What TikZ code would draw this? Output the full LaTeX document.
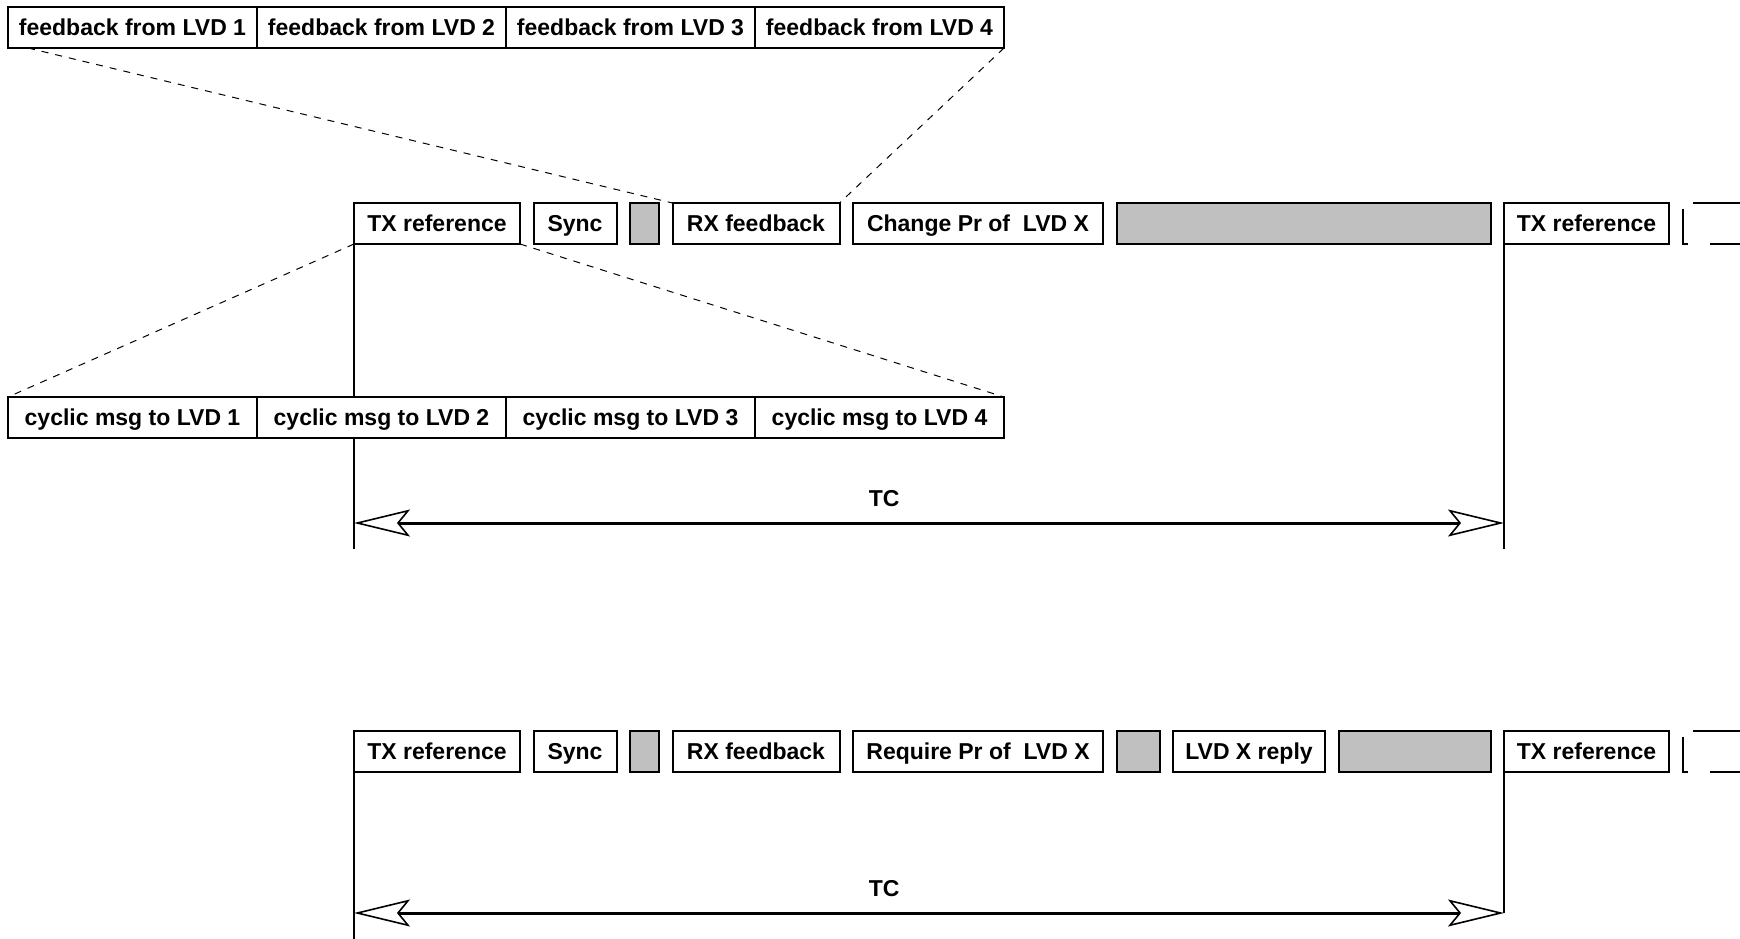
\documentclass[tikz,border=0pt]{standalone}
\usepackage{fontspec}
\setmainfont{Liberation Sans}
\usepackage{tikz}
\usetikzlibrary{arrows.meta, positioning, calc}
\definecolor{slotgray}{HTML}{C0C0C0}

\begin{document}
\begin{tikzpicture}[x=0.5pt, y=-0.5pt, node distance=6.75pt,
    font=\fontsize{11.5}{13}\selectfont\bfseries,
    frame/.style={draw, line width=1pt, fill=white, minimum height=20.5pt,
                  text height=9.5pt, text depth=1.4pt,
                  inner sep=0pt, outer sep=0pt, anchor=west},
    slot/.style={frame, fill=slotgray},
    zoomline/.style={line width=0.5pt, dash pattern=on 3.5pt off 3.5pt},
    tick/.style={line width=0.8pt},
    tcline/.style={line width=1.5pt,
      {Stealth[fill=white, length=28pt, width=13.5pt, inset=5.5pt, line width=0.8pt]}-{Stealth[fill=white, length=28pt, width=13.5pt, inset=5.5pt, line width=0.8pt]}}]
  \useasboundingbox (0,0) rectangle (1740,938);

  % feedback frame
  \node[frame, minimum width=124.5pt] (fb1) at (8,27.5) {feedback from LVD 1};
  \node[frame, minimum width=124.5pt, right=0pt of fb1] (fb2) {feedback from LVD 2};
  \node[frame, minimum width=124.5pt, right=0pt of fb2] (fb3) {feedback from LVD 3};
  \node[frame, minimum width=124.5pt, right=0pt of fb3] (fb4) {feedback from LVD 4};

  % first cycle
  \node[frame, minimum width=83pt] (txa) at (354,223.5) {TX reference};
  \node[frame, minimum width=41.5pt, right=of txa] (synca) {Sync};
  \node[slot, minimum width=14.5pt, right=of synca] (gapa) {};
  \node[frame, minimum width=83.5pt, right=of gapa] (rxa) {RX feedback};
  \node[frame, minimum width=125pt, right=of rxa] (chga) {Change Pr of\ \ LVD X};
  \node[slot, minimum width=187pt, right=of chga] (idlea) {};
  \node[frame, minimum width=82.5pt, right=of idlea] (txra) {TX reference};
  \draw[line width=1pt] ($(txra.north east)+(24,0)$) -- ++(50,0);
  \draw[line width=1pt] ($(txra.north east)+(14,6)$) -- ($(txra.south east)+(14,0)$) -- ++(5,0);
  \draw[line width=1pt] ($(txra.south east)+(41,0)$) -- ++(35,0);

  \draw[tick] (txa.south west) -- ++(0,305);
  \draw[tick] (txra.south west) -- ++(0,305);

  % cyclic frame
  \node[frame, minimum width=124.5pt, below=174.5pt of fb1] (cy1) {cyclic msg to LVD 1};
  \node[frame, minimum width=124.5pt, right=0pt of cy1] (cy2) {cyclic msg to LVD 2};
  \node[frame, minimum width=124.5pt, right=0pt of cy2] (cy3) {cyclic msg to LVD 3};
  \node[frame, minimum width=124.5pt, right=0pt of cy3] (cy4) {cyclic msg to LVD 4};

  \draw[zoomline] ($(fb1.south west)+(20,0)$) -- (rxa.north west);
  \draw[zoomline] (fb4.south east) -- (rxa.north east);
  \draw[zoomline] (txa.south west) -- (cy1.north west);
  \draw[zoomline] (txa.south east) -- (cy4.north east);

  \coordinate (tcal) at ($(txa.south west)+(0,279)$);
  \coordinate (tcar) at ($(txra.south west)+(0,279)$);
  \draw[tcline] (tcal) -- (tcar);
  \node (tca) at ($(tcal)!0.461!(tcar)+(0,-24)$) {TC};

  % second cycle
  \node[frame, minimum width=83pt, below=243.5pt of txa] (txb) {TX reference};
  \node[frame, minimum width=41.5pt, right=of txb] (syncb) {Sync};
  \node[slot, minimum width=14.5pt, right=of syncb] (gapb) {};
  \node[frame, minimum width=83.5pt, right=of gapb] (rxb) {RX feedback};
  \node[frame, minimum width=125pt, right=of rxb] (reqb) {Require Pr of\ \ LVD X};
  \node[slot, minimum width=21.5pt, right=of reqb] (waitb) {};
  \node[frame, minimum width=76pt, right=of waitb] (replyb) {LVD X reply};
  \node[slot, minimum width=76pt, right=of replyb] (idleb) {};
  \node[frame, minimum width=82.5pt, right=of idleb] (txrb) {TX reference};
  \draw[line width=1pt] ($(txrb.north east)+(24,0)$) -- ++(50,0);
  \draw[line width=1pt] ($(txrb.north east)+(14,6)$) -- ($(txrb.south east)+(14,0)$) -- ++(5,0);
  \draw[line width=1pt] ($(txrb.south east)+(41,0)$) -- ++(35,0);

  \coordinate (tcbl) at ($(txb.south west)+(0,141)$);
  \coordinate (tcbr) at ($(txrb.south west)+(0,141)$);
  \draw[tick] (txb.south west) -- ++(0,170);
  \draw[tick] (txrb.south west) -- (tcbr);
  \draw[tcline] (tcbl) -- (tcbr);
  \node (tcb) at ($(tcbl)!0.461!(tcbr)+(0,-24)$) {TC};
\end{tikzpicture}
\end{document}
